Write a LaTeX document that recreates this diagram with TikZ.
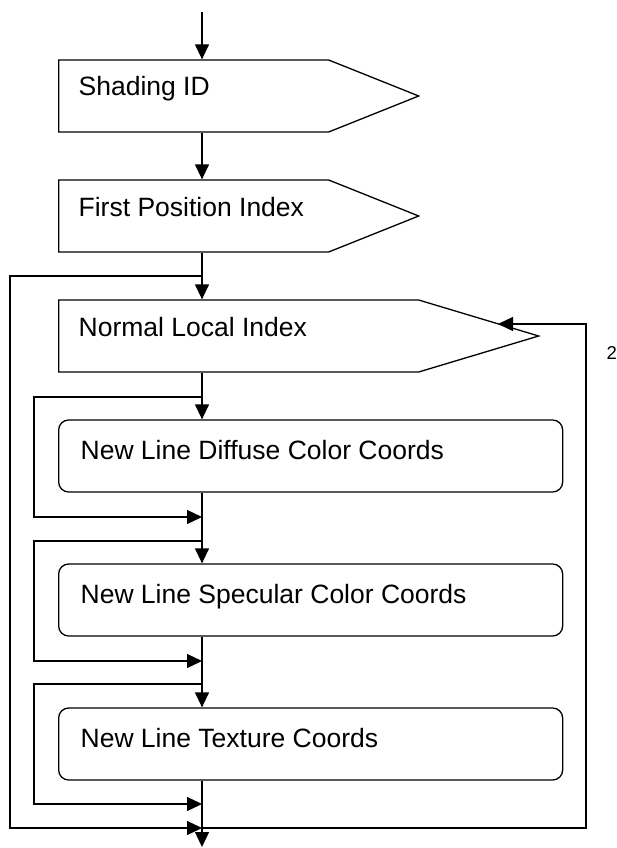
\documentclass[tikz,border=0pt]{standalone}
\usepackage{fontspec}
\setmainfont{Liberation Sans}
\usetikzlibrary{arrows.meta,shapes.symbols}

\begin{document}
\begin{tikzpicture}[
  x=1pt,
  y=1pt,
  line width=1.3pt,
  >={Triangle[length=15pt,width=14pt]},
  font=\fontsize{26.5}{32}\selectfont,
  field/.style={signal, signal to=east, signal from=nowhere, draw, anchor=west,
    minimum height=72pt, inner sep=0pt},
  block/.style={draw, rounded corners=10pt, anchor=west, minimum width=504pt,
    minimum height=72pt, inner sep=0pt},
  ftext/.style={anchor=base west, inner sep=0pt, xshift=20pt},
  btext/.style={anchor=base west, inner sep=0pt, xshift=22pt, yshift=-3pt},
  flow/.style={->}
]
\useasboundingbox (0,0) rectangle (617,-848);
\node[field, minimum width=360pt, signal pointer angle=43.6,
  label={[ftext]west:Shading ID}] (sid) at (58,-96) {};
\node[field, minimum width=360pt, signal pointer angle=43.6,
  label={[ftext]west:First Position Index}] (fpi) at (58,-216) {};
\node[field, minimum width=480pt, signal pointer angle=33.4,
  label={[ftext]west:Normal Local Index}] (nli) at (58,-336) {};
\node[block, label={[btext]west:New Line Diffuse Color Coords}] (dif) at (58,-456) {};
\node[block, label={[btext]west:New Line Specular Color Coords}] (spc) at (58,-600) {};
\node[block, label={[btext]west:New Line Texture Coords}] (tex) at (58,-744) {};
\node[font=\fontsize{18.6}{22}\selectfont, anchor=base west, inner sep=0pt] (two) at (606,-359) {2};
% spine and loop corners
\coordinate (in) at (202,-12);
\coordinate (out) at (202,-847);
\coordinate (jo) at (202,-276);
\coordinate (mo) at (202,-828);
\coordinate (fb) at (498,-324);
\coordinate (ol) at (10,0);
\coordinate (il) at (34,0);
\coordinate (rl) at (586,0);
\coordinate (br1) at (202,-397);
\coordinate (mg1) at (202,-517);
\coordinate (br2) at (202,-541);
\coordinate (mg2) at (202,-661);
\coordinate (br3) at (202,-684);
\coordinate (mg3) at (202,-804);
\draw[flow] (in) -- (in |- sid.north);
\draw[flow] (in |- sid.south) -- (in |- fpi.north);
\draw[flow] (in |- fpi.south) -- (in |- nli.north);
\draw[flow] (in |- nli.south) -- (in |- dif.north);
\draw[flow] (in |- dif.south) -- (in |- spc.north);
\draw[flow] (in |- spc.south) -- (in |- tex.north);
\draw[flow] (in |- tex.south) -- (out);
\draw[flow] (br1) -| (il |- mg1) -- (mg1);
\draw[flow] (br2) -| (il |- mg2) -- (mg2);
\draw[flow] (br3) -| (il |- mg3) -- (mg3);
\draw[flow] (jo) -| (ol |- mo) -- (mo);
\draw[flow] (mo) -| (rl |- fb) -- (fb);
\end{tikzpicture}
\end{document}
